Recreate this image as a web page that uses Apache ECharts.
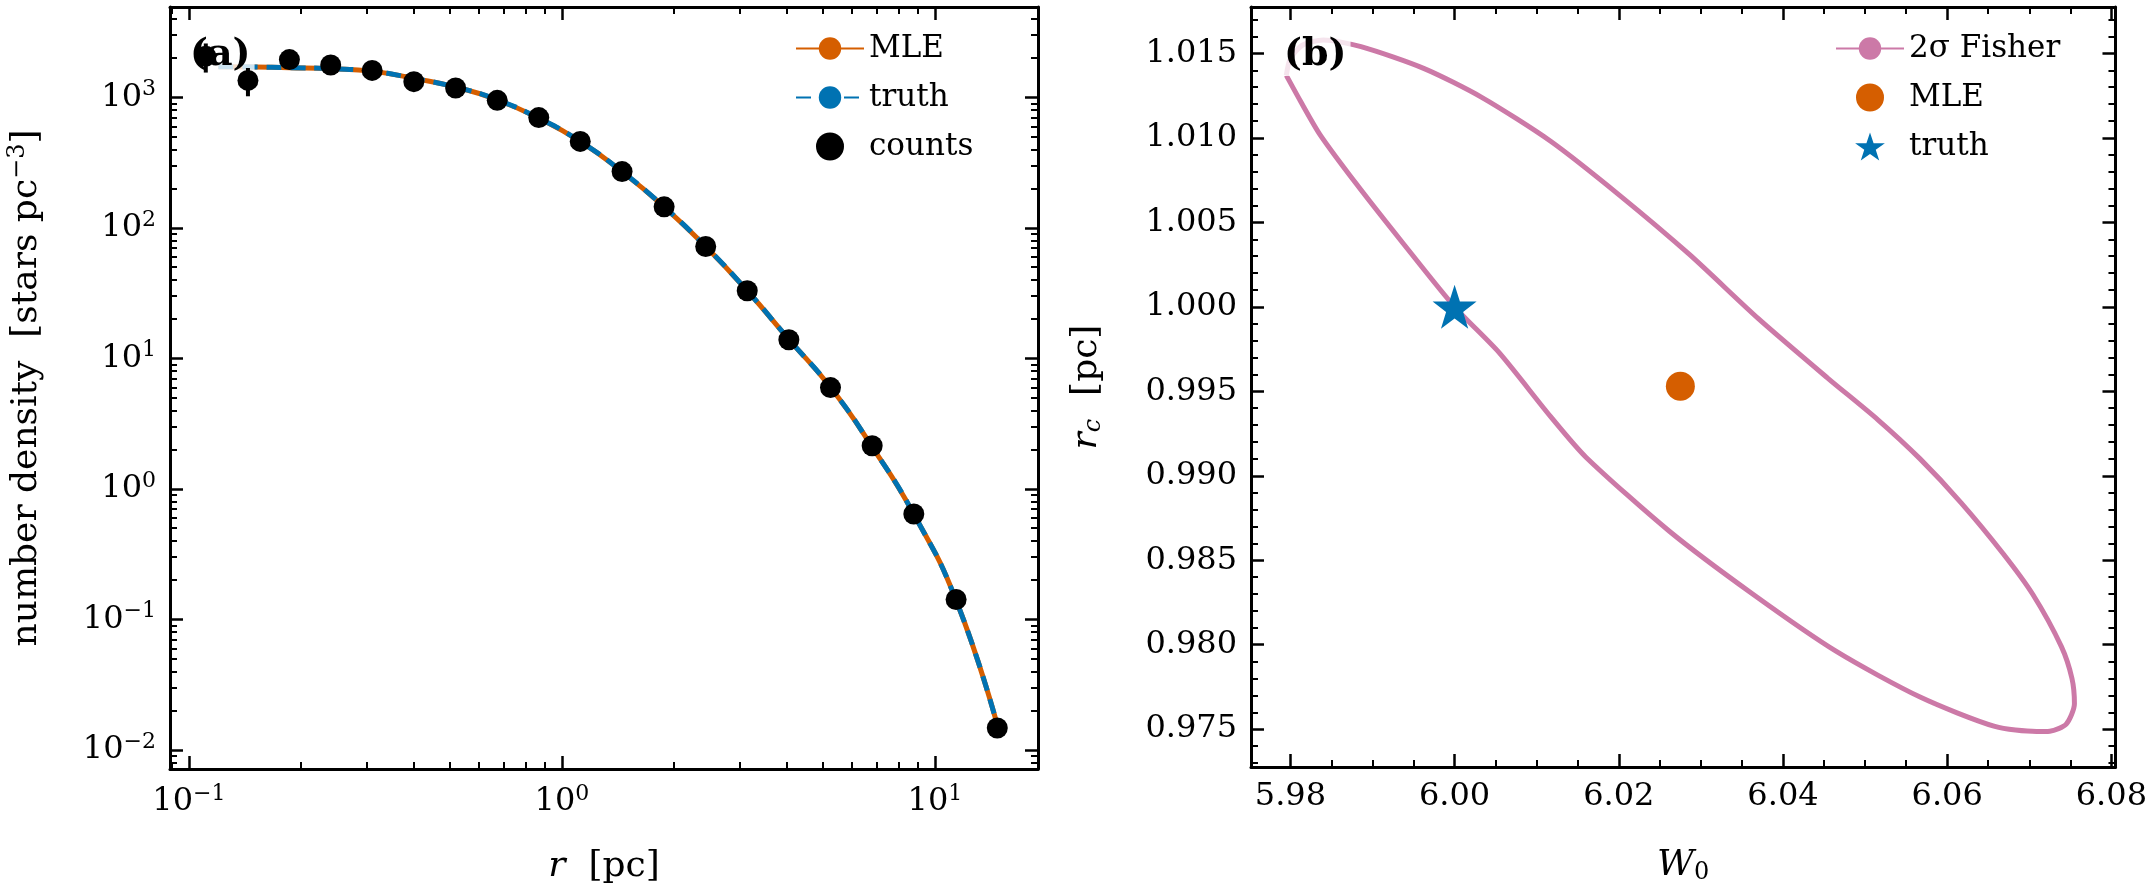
<!DOCTYPE html>
<html><head><meta charset="utf-8">
<script src="https://cdn.jsdelivr.net/npm/echarts@6/dist/echarts.min.js"></script>
<style>html,body{margin:0;padding:0;background:#fff}#c{width:2150px;height:890px}</style>
</head><body><div id="c"></div>
<script>
// ---- data (panel a) ----
var rCounts = [0.111,0.144,0.186,0.240,0.310,0.401,0.519,0.671,0.867,1.12,1.45,1.88,2.43,3.14,4.06,5.25,6.79,8.78,11.4,14.7];
var nCounts = [2070,1350,1950,1770,1610,1320,1180,950,700,460,270,145,72,33,13.9,5.97,2.14,0.642,0.142,0.0147];
var nErr    = [520,330,120,90,70,55,45,35,25,15,9,5,2.5,1.2,0.5,0.2,0.08,0.02,0.006,0.001];
var rModel  = [0.12,0.15,0.186,0.24,0.31,0.40,0.52,0.67,0.87,1.12,1.45,1.88,2.43,3.14,4.06,5.25,6.79,8.78,11.4,14.7];
var nMLE    = [1720,1710,1690,1660,1590,1400,1200,960,690,460,270,145,72,33,14,6.0,2.1,0.64,0.14,0.0155];
var nTruth  = [1720,1710,1690,1660,1590,1400,1200,960,690,460,270,145,72,33,14,6.0,2.1,0.64,0.14,0.0155];
// ---- data (panel b) ----
var ellW = [5.9795,5.9800,5.9815,5.9840,5.9886,5.9963,6.0033,6.0117,6.0201,6.0286,6.0370,6.0454,6.0516,6.0567,6.0617,6.0668,6.0704,6.0739,6.0752,6.0755,6.0745,6.0725,6.0709,6.0658,6.0567,6.0465,6.0363,6.0262,6.0160,6.0117,6.0054,6.0000,5.9935,5.9880,5.9836,5.9812,5.9795];
var ellR = [1.0137,1.0147,1.0155,1.0158,1.0154,1.0141,1.0124,1.0098,1.0066,1.0031,0.9993,0.9958,0.9933,0.9910,0.9884,0.9854,0.9830,0.9799,0.9780,0.9765,0.9753,0.97488,0.97486,0.97516,0.9769,0.9796,0.9830,0.9867,0.9911,0.9935,0.9973,1.0000,1.0039,1.0073,1.0102,1.0122,1.0137];
var mlePt = [6.0275, 0.9953];
var truthPt = [6.000, 1.000];
// ---- ticks ----
var xTicksA = [0.1,1,10];
var xMinorA = [0.09,0.2,0.3,0.4,0.5,0.6,0.7,0.8,0.9,2,3,4,5,6,7,8,9];
var yTicksA = [0.01,0.1,1,10,100,1000];
var yMinorA = [0.008,0.009,0.02,0.03,0.04,0.05,0.06,0.07,0.08,0.09,0.2,0.3,0.4,0.5,0.6,0.7,0.8,0.9,2,3,4,5,6,7,8,9,20,30,40,50,60,70,80,90,200,300,400,500,600,700,800,900,2000,3000,4000];
var xTicksB = [5.98,6.00,6.02,6.04,6.06,6.08];
var xMinorB = [5.985,5.99,5.995,6.005,6.01,6.015,6.025,6.03,6.035,6.045,6.05,6.055,6.065,6.07,6.075];
var yTicksB = [0.975,0.980,0.985,0.990,0.995,1.000,1.005,1.010,1.015];
var yMinorB = [];
for (var v=973; v<=1017; v++) if (v%5!==0) yMinorB.push(v/1000);

var FONT = 'DejaVu Serif';
var FS = 32;
var C_OR = '#d55e00', C_BL = '#0072b2', C_PK = '#cc79a7';
function logFmt(v){var e=Math.round(Math.log10(v));return '{b|10}{s|'+(e<0?'\u2212'+(-e):e)+'}';}
var logRich = {b:{fontFamily:FONT,fontSize:FS,color:'#000'},s:{fontFamily:FONT,fontSize:22,color:'#000',verticalAlign:'top',padding:[0,0,16,0]}};

function axes(kind, grid, pos, type, min, max, major, minor, opts){
  var base = {gridIndex:grid, type:type, min:min, max:max, position:pos, splitLine:{show:false}};
  var maj = Object.assign({}, base, {
    axisLine:{show:true,onZero:false,lineStyle:{color:'#000',width:3}},
    axisTick:{show:true,inside:true,length:13,lineStyle:{color:'#000',width:2.5},customValues:major},
    axisLabel:{show:!!opts.label,customValues:major,formatter:opts.fmt,rich:opts.rich,margin:14,
      fontFamily:FONT,fontSize:FS,color:'#000'}
  });
  if (opts.name){maj.name=opts.name;maj.nameLocation='middle';maj.nameGap=opts.gap;maj.nameTextStyle=opts.nts;}
  var mn = Object.assign({}, base, {
    axisLine:{show:false},
    axisTick:{show:true,inside:true,length:7,lineStyle:{color:'#000',width:2},customValues:minor},
    axisLabel:{show:false}
  });
  return [maj, mn];
}
var fixedFmt = function(d){return function(v){return v.toFixed(d);};};
var NS = 36;
var italic = {fontFamily:FONT,fontStyle:'italic',fontSize:NS};
var xAxis = [].concat(
  axes('x',0,'bottom','log',0.089,18.9,xTicksA,xMinorA,{label:true,fmt:logFmt,rich:logRich,name:'{i|r}  [pc]',gap:80,
    nts:{fontFamily:FONT,fontSize:NS,color:'#000',rich:{i:italic}}}),
  axes('x',0,'top','log',0.089,18.9,xTicksA,xMinorA,{}),
  axes('x',1,'bottom','value',5.9752,6.0805,xTicksB,xMinorB,{label:true,fmt:fixedFmt(2),name:'{i|W}{sub|0}',gap:80,
    nts:{fontFamily:FONT,fontSize:NS,color:'#000',rich:{i:italic,sub:{fontFamily:FONT,fontSize:24,verticalAlign:'bottom',padding:[14,0,0,0]}}}}),
  axes('x',1,'top','value',5.9752,6.0805,xTicksB,xMinorB,{})
);
var yAxis = [].concat(
  axes('y',0,'left','log',0.00713,4930,yTicksA,yMinorA,{label:true,fmt:logFmt,rich:logRich,
    name:'number density  [stars pc{s|\u22123}]',gap:122,
    nts:{fontFamily:FONT,fontSize:NS,color:'#000',rich:{s:{fontFamily:FONT,fontSize:24,verticalAlign:'top',padding:[0,0,18,0]}}}}),
  axes('y',0,'right','log',0.00713,4930,yTicksA,yMinorA,{}),
  axes('y',1,'left','value',0.97276,1.01775,yTicksB,yMinorB,{label:true,fmt:fixedFmt(3),name:'{i|r}{sub|c}  [pc]',gap:145,
    nts:{fontFamily:FONT,fontSize:NS,color:'#000',rich:{i:italic,sub:{fontFamily:FONT,fontStyle:'italic',fontSize:24,verticalAlign:'bottom',padding:[14,0,0,0]}}}}),
  axes('y',1,'right','value',0.97276,1.01775,yTicksB,yMinorB,{})
);

function zip(a,b){return a.map(function(v,i){return [v,b[i]];});}
var errData = rCounts.map(function(r,i){return [r, nCounts[i]-nErr[i], nCounts[i]+nErr[i]];});
var STAR = 'path://M50,0 L61.8,35.1 L98.9,35.1 L68.9,56.9 L80.3,92.1 L50,70.4 L19.7,92.1 L31.1,56.9 L1.1,35.1 L38.2,35.1 Z';
var LT = {fontFamily:FONT,fontSize:31,color:'#000'};

var option = {
  backgroundColor:'#fff', animation:false,
  grid:[{left:170,top:7,width:868,height:767},{left:1251,top:7,width:865,height:767}],
  xAxis:xAxis, yAxis:yAxis,
  legend:[
    {left:790,top:28,orient:'vertical',itemGap:18,itemWidth:68,itemHeight:28,textStyle:LT,
     data:['MLE','truth',{name:'counts',icon:'circle',itemStyle:{color:'#000'}}]},
    {left:1830,top:28,orient:'vertical',itemGap:18,itemWidth:68,itemHeight:28,textStyle:LT,
     data:['2\u03c3 Fisher','MLE ','truth ']}
  ],
  series:[
    {name:'MLE',type:'line',xAxisIndex:0,yAxisIndex:0,data:zip(rModel,nMLE),smooth:true,symbol:'none',
     lineStyle:{color:C_OR,width:5},itemStyle:{color:C_OR},z:2},
    {name:'truth',type:'line',xAxisIndex:0,yAxisIndex:0,data:zip(rModel,nTruth),smooth:true,symbol:'none',
     lineStyle:{color:C_BL,width:5,type:[15,9]},itemStyle:{color:C_BL},z:3},
    {name:'counts',type:'custom',xAxisIndex:0,yAxisIndex:0,data:errData,zlevel:1,itemStyle:{color:'#000'},
     renderItem:function(p,api){var a=api.coord([api.value(0),api.value(1)]),b=api.coord([api.value(0),api.value(2)]);
       return {type:'line',shape:{x1:a[0],y1:a[1],x2:b[0],y2:b[1]},style:{stroke:'#000',lineWidth:4}};}},
    {name:'counts',type:'scatter',xAxisIndex:0,yAxisIndex:0,data:zip(rCounts,nCounts),symbol:'circle',symbolSize:21,
     itemStyle:{color:'#000',opacity:1},zlevel:1},
    {name:'2\u03c3 Fisher',type:'line',xAxisIndex:4,yAxisIndex:4,data:zip(ellW,ellR),smooth:0.25,symbol:'none',
     lineStyle:{color:C_PK,width:5},itemStyle:{color:C_PK},z:2},
    {name:'MLE ',type:'scatter',xAxisIndex:4,yAxisIndex:4,data:[mlePt],symbol:'circle',symbolSize:29,itemStyle:{color:C_OR,opacity:1},z:4},
    {name:'truth ',type:'scatter',xAxisIndex:4,yAxisIndex:4,data:[truthPt],symbol:STAR,symbolSize:44,itemStyle:{color:C_BL,opacity:1},z:5}
  ],
  graphic:[
    {type:'text',left:186,top:34,z:100,style:{text:'(a)',fontFamily:FONT,fontWeight:'bold',fontSize:38,fill:'#000',
      backgroundColor:'rgba(255,255,255,0.8)',padding:[2,4]}},
    {type:'text',left:1280,top:34,z:100,style:{text:'(b)',fontFamily:FONT,fontWeight:'bold',fontSize:38,fill:'#000',
      backgroundColor:'rgba(255,255,255,0.8)',padding:[2,4]}}
  ]
};
var chart = echarts.init(document.getElementById('c'));
chart.setOption(option);
</script></body></html>
